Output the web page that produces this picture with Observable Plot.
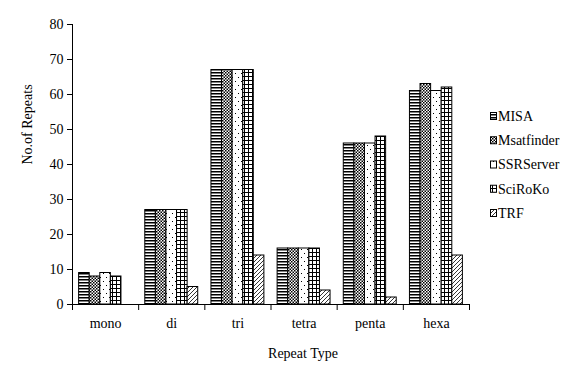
<!DOCTYPE html>
<html><head><meta charset="utf-8">
<script src="https://cdn.jsdelivr.net/npm/d3@7"></script>
<script src="https://cdn.jsdelivr.net/npm/@observablehq/plot@0.6"></script>
<style>body{margin:0;background:#fff}</style>
</head><body><div id="chart"></div>
<script>
const categories = ["mono", "di", "tri", "tetra", "penta", "hexa"];
const series = ["MISA", "Msatfinder", "SSRServer", "SciRoKo", "TRF"];
const MISA = [9, 27, 67, 16, 46, 61];
const Msatfinder = [8, 27, 67, 16, 46, 63];
const SSRServer = [9, 27, 67, 16, 46, 61];
const SciRoKo = [8, 27, 67, 16, 48, 62];
const TRF = [0, 5, 14, 4, 2, 14];
const yTicks = [0, 10, 20, 30, 40, 50, 60, 70, 80];

const values = [MISA, Msatfinder, SSRServer, SciRoKo, TRF];
const rows = [];
categories.forEach((c, ci) => series.forEach((s, si) => {
  rows.push({cat: c, ci, series: s, si, value: values[si][ci]});
}));
const BW = 0.16, OFF = 0.1;
const fills = series.map((s, i) => `url(#pat${i})`);
const font = "'Liberation Serif', 'Times New Roman', serif";

const chart = Plot.plot({
  width: 576, height: 384,
  marginLeft: 72, marginRight: 107, marginTop: 24, marginBottom: 80,
  style: {fontFamily: font, fontSize: "14px", background: "#fff", color: "#000"},
  x: {domain: [0, categories.length], axis: null},
  y: {domain: [0, 80], axis: null},
  color: {domain: series, range: fills},
  marks: [
    Plot.rectY(rows.filter(d => d.value > 0), {
      x1: d => d.ci + OFF + d.si * BW,
      x2: d => d.ci + OFF + (d.si + 1) * BW,
      y1: 0, y2: "value", fill: "series", stroke: "#000", strokeWidth: 1
    }),
    Plot.axisY({ticks: yTicks, tickSize: 5, tickPadding: 4, label: null, fontSize: 14}),
    Plot.ruleX([0], {stroke: "#000"}),
    Plot.ruleY([0], {stroke: "#000"}),
    Plot.axisX({ticks: d3.range(categories.length + 1), tickSize: 6, tickFormat: () => "", label: null}),
    Plot.axisX({ticks: categories.map((c, i) => i + 0.5), tickSize: 0, tickPadding: 14,
      tickFormat: v => categories[Math.floor(v)], label: null, fontSize: 14}),
    Plot.text(["No.of Repeats"], {frameAnchor: "left", dx: -45, dy: 0, rotate: -90, fontSize: 14}),
    Plot.text(["Repeat Type"], {frameAnchor: "bottom", dy: 53, dx: 32, fontSize: 14})
  ]
});

const svg = d3.select(chart);
const defs = svg.insert("defs", ":first-child");
// MISA: horizontal lines
let p = defs.append("pattern").attr("id", "pat0").attr("patternUnits", "userSpaceOnUse").attr("width", 4).attr("height", 3);
p.append("rect").attr("width", 4).attr("height", 3).attr("fill", "#fff");
p.append("rect").attr("width", 4).attr("height", 1.5).attr("fill", "#000");
// Msatfinder: dense checker
p = defs.append("pattern").attr("id", "pat1").attr("patternUnits", "userSpaceOnUse").attr("width", 3).attr("height", 3);
p.append("rect").attr("width", 3).attr("height", 3).attr("fill", "#fff");
p.append("rect").attr("width", 1.5).attr("height", 1.5).attr("fill", "#000");
p.append("rect").attr("x", 1.5).attr("y", 1.5).attr("width", 1.5).attr("height", 1.5).attr("fill", "#000");
// SSRServer: sparse dots
p = defs.append("pattern").attr("id", "pat2").attr("patternUnits", "userSpaceOnUse").attr("width", 6).attr("height", 8);
p.append("rect").attr("width", 6).attr("height", 8).attr("fill", "#fff");
p.append("rect").attr("x", 1).attr("y", 1).attr("width", 1).attr("height", 1).attr("fill", "#000");
p.append("rect").attr("x", 4).attr("y", 5).attr("width", 1).attr("height", 1).attr("fill", "#000");
// SciRoKo: grid
p = defs.append("pattern").attr("id", "pat3").attr("patternUnits", "userSpaceOnUse").attr("width", 4).attr("height", 4);
p.append("rect").attr("width", 4).attr("height", 4).attr("fill", "#fff");
p.append("rect").attr("width", 4).attr("height", 1).attr("fill", "#000");
p.append("rect").attr("width", 1).attr("height", 4).attr("fill", "#000");
// TRF: diagonal lines
p = defs.append("pattern").attr("id", "pat4").attr("patternUnits", "userSpaceOnUse").attr("width", 4).attr("height", 4);
p.append("rect").attr("width", 4).attr("height", 4).attr("fill", "#fff");
p.append("path").attr("d", "M-1,1 L1,-1 M0,4 L4,0 M3,5 L5,3").attr("stroke", "#000").attr("stroke-width", 0.8);

// legend
const lg = svg.append("g").style("font-family", font).style("font-size", "14px").attr("text-anchor", "start");
series.forEach((s, i) => {
  const y = 116 + i * 24.25;
  lg.append("rect").attr("x", 490.5).attr("y", y - 3.5).attr("width", 6).attr("height", 7)
    .attr("fill", fills[i]).attr("stroke", "#000");
  lg.append("text").attr("x", 498).attr("y", y).attr("dy", "0.35em").attr("text-anchor", "start")
    .style("font-family", font).style("font-size", "14px").text(s);
});

document.getElementById("chart").appendChild(chart);
</script>
</body></html>
